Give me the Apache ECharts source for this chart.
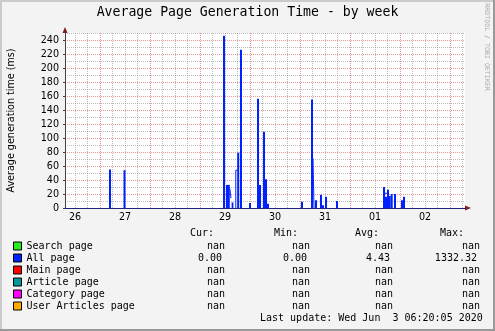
<!DOCTYPE html>
<html>
<head>
<meta charset="utf-8">
<style>
  html, body { margin: 0; padding: 0; background: #f3f3f3; }
  #chart { width: 495px; height: 331px; }
</style>
<script src="https://cdn.jsdelivr.net/npm/echarts@6.0.0/dist/echarts.min.js"></script>
</head>
<body>
<div id="chart"></div>
<script>
// Time axis is expressed in hours since 26 May 00:00.
const viewStart = 7.2;
const viewEnd = 199.2;

// Day labels, centred at noon of each day
const dayLabels = ['26', '27', '28', '29', '30', '31', '01', '02'];
const dayNoonHours = [12, 36, 60, 84, 108, 132, 156, 180];
const midnightHours = [24, 48, 72, 96, 120, 144, 168, 192];

// Y axis labels
const yLabelValues = [0, 20, 40, 60, 80, 100, 120, 140, 160, 180, 200, 220, 240];
const yMinorValues = [10, 30, 50, 70, 90, 110, 130, 150, 170, 190, 210, 230, 250];

// "All page" average generation time (ms): intervals with a non-zero value
const spikeStart = [28.32, 35.28, 83.04, 84.48, 87.17, 89.86, 91.20, 95.52, 99.36, 100.32,
                    102.24, 103.20, 104.16, 120.48, 125.28, 127.20, 129.60, 130.56, 132.00, 137.28,
                    159.84, 160.80, 161.76, 162.72, 163.54, 165.12, 168.48, 169.44];
const spikeEnd   = [29.28, 36.24, 84.00, 86.30, 88.03, 90.82, 92.16, 96.48, 100.32, 101.28,
                    103.20, 104.16, 105.12, 121.44, 126.24, 128.16, 130.56, 131.52, 132.96, 138.24,
                    160.80, 161.76, 162.72, 163.54, 164.50, 166.08, 169.44, 170.40];
const spikeValue = [55, 54, 246, 33, 8, 79, 226, 7, 156, 33,
                    109, 41, 6, 9, 155, 11, 19, 4, 16, 10,
                    30, 16, 26, 17, 20, 20, 11, 16];

// Outline-only stretches of the same series (null separates pieces)
const outlineHour  = [86.30, 86.88, 86.88, 87.17, null, 89.18, 89.18, 89.86, null,
                      126.24, 126.72, 126.72, null, 160.80, 161.76];
const outlineValue = [28, 28, 14, 14, null, 0, 54, 54, null,
                      71, 71, 0, null, 21, 21];

// Legend entries and their summary values
const legendNames = ['Search page', 'All page', 'Main page', 'Article page', 'Category page', 'User Articles page'];
const legendColors = ['#22ee22', '#0022ff', '#ff0000', '#009999', '#ff00ff', '#ffaa00'];
const curValues = ['nan', '0.00', 'nan', 'nan', 'nan', 'nan'];
const minValues = ['nan', '0.00', 'nan', 'nan', 'nan', 'nan'];
const avgValues = ['nan', '4.43', 'nan', 'nan', 'nan', 'nan'];
const maxValues = ['nan', '1332.32', 'nan', 'nan', 'nan', 'nan'];
const columnHeads = ['Cur:', 'Min:', 'Avg:', 'Max:'];
const lastUpdate = 'Last update: Wed Jun  3 06:20:05 2020';

const spikeData = spikeStart.map((s, i) => [s, spikeEnd[i], spikeValue[i]]);
const outlinePoints = outlineHour.map((h, i) => (h === null ? null : [h, outlineValue[i]]));

// 6-hour minor grid (midnights carry the major grid)
const minorHours = [];
for (let h = 12; h < viewEnd; h += 6) { if (h % 24 !== 0) minorHours.push(h); }

const MONO = 'DejaVu Sans Mono';
const SANS = 'DejaVu Sans';
const BLUE = legendColors[1];
const GRID_MINOR = 'rgba(143,143,143,0.6)';
const GRID_MAJOR = 'rgba(222,80,80,0.6)';

const chart = echarts.init(document.getElementById('chart'), null, { renderer: 'canvas' });

// Summary table text
const tableText = [];
const colLeftHead = [190, 274, 355, 440];
const colRight = [225, 310, 393, 480];
columnHeads.forEach((t, c) => tableText.push({
  type: 'text', left: colLeftHead[c], top: 228,
  style: { text: t, font: '10px "' + MONO + '"', fill: '#000' }
}));
[curValues, minValues, avgValues, maxValues].forEach((col, c) => {
  col.forEach((v, r) => {
    tableText.push({
      type: 'text',
      x: colRight[c] - (v === 'nan' ? 0 : 3),
      y: 246 + r * 12,
      style: { text: v, font: '10px "' + MONO + '"', fill: '#000', align: 'right', verticalAlign: 'middle' }
    });
  });
});

const seriesList = legendNames.map((name, i) => ({
  name: name, type: 'line', data: [], color: legendColors[i], symbol: 'none'
}));
// Each interval is drawn as a solid block from zero up to its value
seriesList[1] = {
  name: 'All page', type: 'custom', data: spikeData, color: BLUE,
  encode: { x: [0, 1], y: 2 },
  renderItem: function (params, api) {
    const p0 = api.coord([api.value(0), api.value(2)]);
    const p1 = api.coord([api.value(1), 0]);
    return {
      type: 'rect',
      shape: { x: p0[0], y: p0[1], width: p1[0] - p0[0], height: p1[1] - p0[1] },
      style: { fill: BLUE }
    };
  }
};
seriesList.push({
  name: 'All page', type: 'line', data: outlinePoints, connectNulls: false,
  color: BLUE, symbol: 'none',
  lineStyle: { width: 1, color: BLUE }
});

chart.setOption({
  animation: false,
  backgroundColor: '#f3f3f3',
  title: {
    text: 'Average Page Generation Time - by week',
    left: 'center', top: 6, padding: 0,
    textStyle: { fontFamily: MONO, fontSize: 13.2, fontWeight: 'normal', color: '#000', lineHeight: 14 }
  },
  grid: {
    left: 65, top: 33, width: 400, height: 175,
    show: true, backgroundColor: '#ffffff', borderWidth: 0, containLabel: false
  },
  legend: {
    data: legendNames, orient: 'vertical', left: 13, top: 240, padding: 0,
    itemGap: 0, itemWidth: 8, itemHeight: 8, icon: 'rect',
    itemStyle: { borderColor: '#000', borderWidth: 1 },
    selectedMode: false,
    textStyle: { fontFamily: MONO, fontSize: 10, color: '#000', lineHeight: 12 }
  },
  xAxis: [
    {
      type: 'value', min: viewStart, max: viewEnd,
      axisLine: { show: false },
      axisTick: { show: false, customValues: minorHours },
      axisLabel: {
        customValues: dayNoonHours, margin: 4,
        fontFamily: SANS, fontSize: 9.6, color: '#000',
        formatter: v => dayLabels[Math.round((v - 12) / 24)]
      },
      splitLine: { show: true, lineStyle: { color: GRID_MINOR, type: [1, 1], width: 1 } }
    },
    {
      type: 'value', min: viewStart, max: viewEnd, position: 'bottom',
      axisLine: {
        show: true, symbol: ['none', 'triangle'], symbolSize: [5, 6], symbolOffset: [0, 3],
        lineStyle: { color: '#7f1f1f', width: 1 }
      },
      axisTick: { show: false, customValues: midnightHours },
      axisLabel: { show: false },
      splitLine: { show: true, lineStyle: { color: GRID_MAJOR, type: [1, 1], width: 1 } }
    },
    {
      type: 'value', min: viewStart, max: viewEnd, position: 'bottom', z: 5,
      axisLine: { show: true, lineStyle: { color: '#22227a', width: 1 } },
      axisTick: { show: false }, axisLabel: { show: false }, splitLine: { show: false }
    }
  ],
  yAxis: [
    {
      type: 'value', min: 0, max: 250, position: 'left',
      axisLine: {
        show: true, symbol: ['none', 'triangle'], symbolSize: [5, 6], symbolOffset: [0, 3],
        lineStyle: { color: '#7f1f1f', width: 1 }
      },
      axisTick: { show: false, customValues: yMinorValues },
      axisLabel: { show: false },
      splitLine: { show: true, lineStyle: { color: GRID_MINOR, type: [1, 1], width: 1 } }
    },
    {
      type: 'value', min: 0, max: 250, position: 'left',
      axisLine: { show: true, lineStyle: { color: '#404040', width: 1 } },
      axisTick: { show: true, customValues: yLabelValues, length: 2, lineStyle: { color: '#404040' } },
      axisLabel: {
        customValues: yLabelValues, margin: 6,
        fontFamily: SANS, fontSize: 9.6, color: '#000'
      },
      splitLine: { show: true, lineStyle: { color: GRID_MAJOR, type: [1, 1], width: 1 } }
    }
  ],
  series: seriesList,
  graphic: [
    { type: 'rect', shape: { x: 0, y: 0, width: 495, height: 2 }, style: { fill: '#cbcbcb' }, silent: true },
    { type: 'rect', shape: { x: 0, y: 0, width: 2, height: 331 }, style: { fill: '#cbcbcb' }, silent: true },
    { type: 'rect', shape: { x: 0, y: 329, width: 495, height: 2 }, style: { fill: '#999999' }, silent: true },
    { type: 'rect', shape: { x: 493, y: 0, width: 2, height: 331 }, style: { fill: '#999999' }, silent: true },
    {
      type: 'text', x: 11, y: 120.5, rotation: Math.PI / 2,
      style: { text: 'Average generation time (ms)', font: '9.6px "' + SANS + '"', fill: '#000', align: 'center', verticalAlign: 'middle' }
    },
    {
      type: 'text', x: 487, y: 47, rotation: -Math.PI / 2,
      style: { text: 'RRDTOOL / TOBI OETIKER', font: '6.6px "' + MONO + '"', fill: '#a8a8a8', align: 'center', verticalAlign: 'middle' }
    },
    {
      type: 'text', left: 260, top: 313,
      style: { text: lastUpdate, font: '10px "' + MONO + '"', fill: '#000' }
    }
  ].concat(tableText)
});
</script>
</body>
</html>
